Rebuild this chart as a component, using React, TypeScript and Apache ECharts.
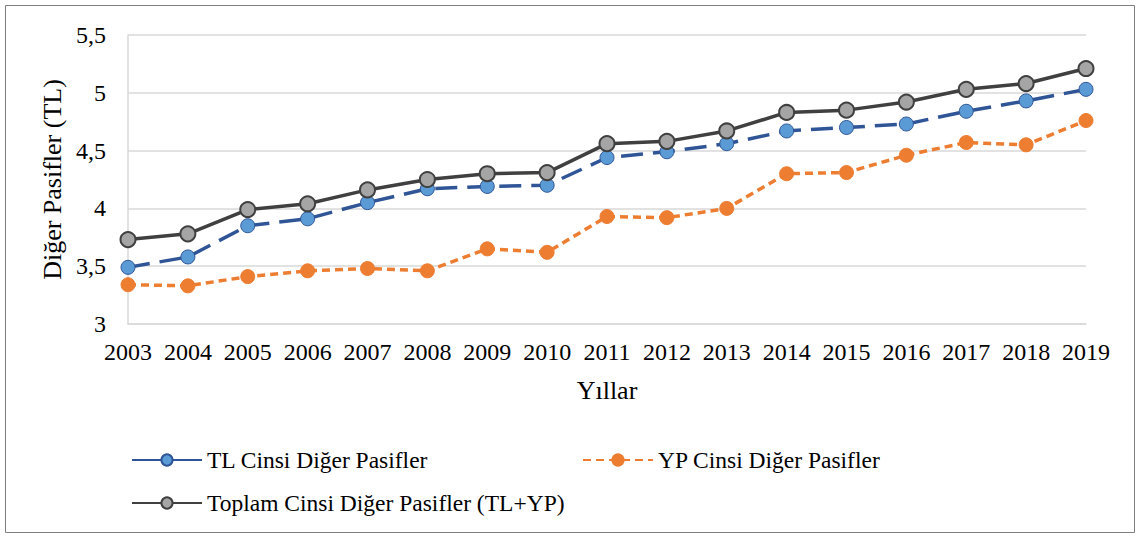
import React, { useEffect, useRef } from "react";
import * as echarts from "echarts";

const years = ["2003","2004","2005","2006","2007","2008","2009","2010","2011","2012","2013","2014","2015","2016","2017","2018","2019"];
const tlValues = [3.49,3.58,3.85,3.91,4.05,4.17,4.19,4.20,4.44,4.49,4.56,4.67,4.70,4.73,4.84,4.93,5.03];
const ypValues = [3.34,3.33,3.41,3.46,3.48,3.46,3.65,3.62,3.93,3.92,4.00,4.30,4.31,4.46,4.57,4.55,4.76];
const totalValues = [3.73,3.78,3.99,4.04,4.16,4.25,4.30,4.31,4.56,4.58,4.67,4.83,4.85,4.92,5.03,5.08,5.21];
const seriesNames = ["TL Cinsi Diğer Pasifler", "YP Cinsi Diğer Pasifler", "Toplam Cinsi Diğer Pasifler (TL+YP)"];

const FONT = "Liberation Serif";

export default function App() {
  const ref = useRef<HTMLDivElement>(null);
  useEffect(() => {
    const chart = echarts.init(ref.current!, undefined, { renderer: "svg" });
    const legendText = { fontFamily: FONT, fontSize: 23.5, color: "#000" };
    chart.setOption({
      animation: false,
      backgroundColor: "#fff",
      graphic: [
        { type: "rect", shape: { x: 5.5, y: 5.5, width: 1129, height: 527 }, style: { fill: "none", stroke: "#7f7f7f", lineWidth: 1 } },
      ],
      grid: { left: 128, right: 54, top: 35, bottom: 212 },
      legend: [
        { data: [{ name: seriesNames[0], lineStyle: { type: "solid" } }], left: 126, top: 443, itemWidth: 70, itemHeight: 14, textStyle: legendText },
        { data: [seriesNames[1]], left: 577, top: 443, itemWidth: 70, itemHeight: 14, textStyle: legendText },
        { data: [seriesNames[2]], left: 126, top: 486, itemWidth: 70, itemHeight: 14, textStyle: legendText },
      ],
      xAxis: {
        type: "category",
        data: years,
        boundaryGap: false,
        name: "Yıllar",
        nameLocation: "middle",
        nameGap: 53,
        nameTextStyle: { fontFamily: FONT, fontSize: 26, color: "#000" },
        axisLine: { lineStyle: { color: "#d9d9d9", width: 1.5 } },
        axisTick: { show: false },
        axisLabel: { fontFamily: FONT, fontSize: 24, color: "#000", margin: 16, interval: 0, hideOverlap: false },
      },
      yAxis: {
        type: "value",
        min: 3,
        max: 5.5,
        interval: 0.5,
        name: "Diğer Pasifler (TL)",
        nameLocation: "middle",
        nameGap: 62,
        nameTextStyle: { fontFamily: FONT, fontSize: 26, color: "#000" },
        axisLine: { show: true, lineStyle: { color: "#d9d9d9", width: 1.5 } },
        axisTick: { show: false },
        splitLine: { lineStyle: { color: "#d9d9d9", width: 1.5 } },
        axisLabel: {
          fontFamily: FONT, fontSize: 24, color: "#000", margin: 22,
          formatter: (v: number) => String(v).replace(".", ","),
        },
      },
      series: [
        {
          name: seriesNames[0], type: "line", data: tlValues,
          symbol: "circle", symbolSize: 14,
          lineStyle: { color: "#2F5597", width: 3.5, type: [22, 10] },
          itemStyle: { color: "#5B9BD5", borderColor: "#2F5597", borderWidth: 1 },
        },
        {
          name: seriesNames[1], type: "line", data: ypValues,
          symbol: "circle", symbolSize: 14,
          lineStyle: { color: "#ED7D31", width: 3.5, type: [8, 5] },
          itemStyle: { color: "#ED7D31", borderColor: "#ED7D31", borderWidth: 1 },
        },
        {
          name: seriesNames[2], type: "line", data: totalValues,
          symbol: "circle", symbolSize: 15,
          lineStyle: { color: "#404040", width: 3.5 },
          itemStyle: { color: "#A5A5A5", borderColor: "#404040", borderWidth: 2 },
        },
      ],
    });
    return () => chart.dispose();
  }, []);
  return <div ref={ref} style={{ position: "fixed", left: 0, top: 0, width: 1140, height: 536 }} />;
}
